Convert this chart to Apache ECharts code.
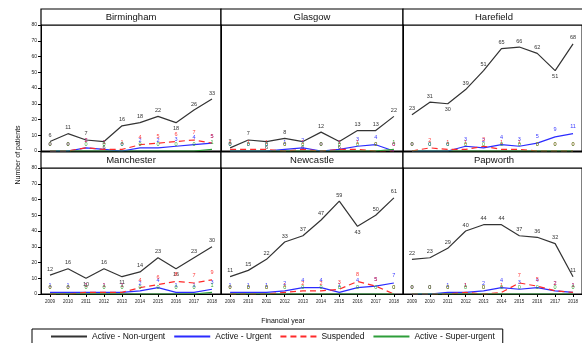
<!DOCTYPE html>
<html>
<head>
<meta charset="utf-8">
<script src="https://cdn.jsdelivr.net/npm/echarts@6/dist/echarts.min.js"></script>
<style>
  html, body { margin: 0; padding: 0; background: #fff; }
  #chart { width: 582px; height: 343px; }
</style>
</head>
<body>
<div id="chart"></div>
<script>
var years = ['2009', '2010', '2011', '2012', '2013', '2014', '2015', '2016', '2017', '2018'];
var centres = ['Birmingham', 'Glasgow', 'Harefield', 'Manchester', 'Newcastle', 'Papworth'];
var yTicks = [0, 80, 10]; // min, max, step

// one row per centre, same order as centres
var nonUrgent = [
  [6, 11, 7, 6, 16, 18, 22, 18, 26, 33],
  [2, 7, 6, 8, 6, 12, 6, 13, 13, 22],
  [23, 31, 30, 39, 51, 65, 66, 62, 51, 68],
  [12, 16, 10, 16, 11, 14, 23, 16, 23, 30],
  [11, 15, 22, 33, 37, 47, 59, 43, 50, 61],
  [22, 23, 29, 40, 44, 44, 37, 36, 32, 11]
];
var urgent = [
  [0, 0, 2, 1, 0, 2, 2, 3, 4, 5],
  [0, 0, 0, 1, 2, 0, 1, 3, 4, 0],
  [0, 0, 0, 3, 2, 4, 3, 5, 9, 11],
  [1, 1, 1, 1, 1, 2, 4, 1, 1, 3],
  [1, 1, 1, 2, 4, 4, 1, 4, 5, 7],
  [0, 0, 1, 1, 2, 4, 3, 4, 2, 1]
];
var suspended = [
  [0, 0, 2, 1, 1, 4, 5, 6, 7, 5],
  [1, 1, 1, 0, 1, 0, 1, 1, 0, 0],
  [0, 2, 1, 1, 3, 1, 1, 0, 0, 0],
  [0, 0, 1, 1, 1, 4, 6, 8, 7, 9],
  [0, 0, 0, 1, 2, 2, 3, 8, 5, 0],
  [0, 0, 0, 1, 0, 1, 7, 5, 2, 1]
];
var superUrgent = [
  [0, 0, 0, 0, 0, 0, 0, 0, 0, 1],
  [0, 0, 0, 0, 0, 0, 0, 0, 0, 1],
  [0, 0, 0, 0, 0, 0, 0, 0, 0, 0],
  [0, 0, 0, 0, 0, 0, 0, 0, 0, 1],
  [0, 0, 0, 0, 0, 0, 0, 0, 0, 0],
  [0, 0, 0, 0, 0, 0, 0, 0, 0, 0]
];

var seriesDefs = [
  { name: 'Active - Non-urgent', data: nonUrgent, color: '#333333', label: '#333', type: 'solid', offset: [0, 0] },
  { name: 'Active - Urgent', data: urgent, color: '#2b2bff', label: '#3a3aff', type: 'solid', offset: [3, 0] },
  { name: 'Suspended', data: suspended, color: '#ff2a2a', label: '#ff3b3b', type: [6, 4], offset: [-5, 0] },
  { name: 'Active - Super-urgent', data: superUrgent, color: '#2e9e3a', label: '#3aaa3a', type: 'solid', offset: [6, 2] }
];

var font = '"Liberation Sans", Arial, sans-serif';
var colLeft = [41, 221, 403];
var colWidth = [180, 182, 182];
var rowTop = [25, 168];
var plotH = 126;
var stripH = 16;

var grids = [], xAxes = [], yAxes = [], series = [], graphics = [];

centres.forEach(function (name, i) {
  var col = i % 3, row = Math.floor(i / 3);
  grids.push({
    left: colLeft[col], top: rowTop[row], width: colWidth[col], height: plotH,
    show: true, borderColor: '#000', borderWidth: 1, backgroundColor: 'transparent'
  });
  xAxes.push({
    type: 'category', gridIndex: i, data: years, boundaryGap: true,
    axisLine: { show: true, lineStyle: { color: '#000', width: 1 } },
    axisTick: { show: row === 1, alignWithLabel: true, length: 3, lineStyle: { color: '#000' } },
    axisLabel: { show: row === 1, fontSize: 4.5, color: '#222', margin: 5, fontFamily: font, interval: 0 },
    splitLine: { show: false }
  });
  yAxes.push({
    type: 'value', gridIndex: i, min: yTicks[0], max: yTicks[1], interval: yTicks[2],
    axisLine: { show: true, lineStyle: { color: '#000', width: 1 } },
    axisTick: { show: col === 0, length: 3, lineStyle: { color: '#000' } },
    axisLabel: { show: col === 0, fontSize: 5, color: '#222', margin: 4, fontFamily: font },
    splitLine: { show: false }
  });

  seriesDefs.forEach(function (s, k) {
    var vals = s.data[i];
    series.push({
      name: s.name, type: 'line', xAxisIndex: i, yAxisIndex: i,
      symbol: 'circle', symbolSize: 0, showSymbol: true, z: 2 + k,
      lineStyle: { color: s.color, width: 1.2, type: s.type },
      itemStyle: { color: s.color },
      data: vals.map(function (v, j) {
        var dip = k === 0 && j > 0 && j < vals.length - 1 && v < vals[j - 1] && v < vals[j + 1];
        return { value: v, label: { position: dip ? 'bottom' : 'top' } };
      }),
      label: { show: true, fontSize: 5.5, color: s.label, distance: k === 0 ? 3 : 4, offset: s.offset, fontFamily: font },
      labelLayout: { hideOverlap: false },
      animation: false
    });
  });

  graphics.push({
    type: 'rect',
    shape: { x: colLeft[col], y: rowTop[row] - stripH, width: colWidth[col], height: stripH },
    style: { fill: '#fff', stroke: '#000', lineWidth: 1.2 }
  });
  graphics.push({
    type: 'text',
    x: colLeft[col] + colWidth[col] / 2, y: rowTop[row] - stripH / 2,
    style: { text: name, font: '9.5px ' + font, fill: '#111', align: 'center', verticalAlign: 'middle' }
  });
});

graphics.push({
  type: 'text', x: 283, y: 321,
  style: { text: 'Financial year', font: '7px ' + font, fill: '#111', align: 'center', verticalAlign: 'middle' }
});
graphics.push({
  type: 'text', x: 18, y: 155, rotation: Math.PI / 2,
  style: { text: 'Number of patients', font: '7px ' + font, fill: '#111', align: 'center', verticalAlign: 'middle' }
});

var chart = echarts.init(document.getElementById('chart'), null, { renderer: 'canvas' });
chart.setOption({
  animation: false,
  backgroundColor: '#fff',
  grid: grids,
  xAxis: xAxes,
  yAxis: yAxes,
  series: series,
  graphic: graphics,
  legend: {
    left: 32, top: 329,
    data: seriesDefs.map(function (s) { return s.name; }),
    itemWidth: 36, itemHeight: 8, itemGap: 8,
    itemStyle: { opacity: 0 },
    borderColor: '#000', borderWidth: 1, padding: [3, 8, 6, 18],
    textStyle: { fontSize: 8.5, color: '#111', fontFamily: font }
  }
});
window.addEventListener('resize', function () { chart.resize(); });
</script>
</body>
</html>
